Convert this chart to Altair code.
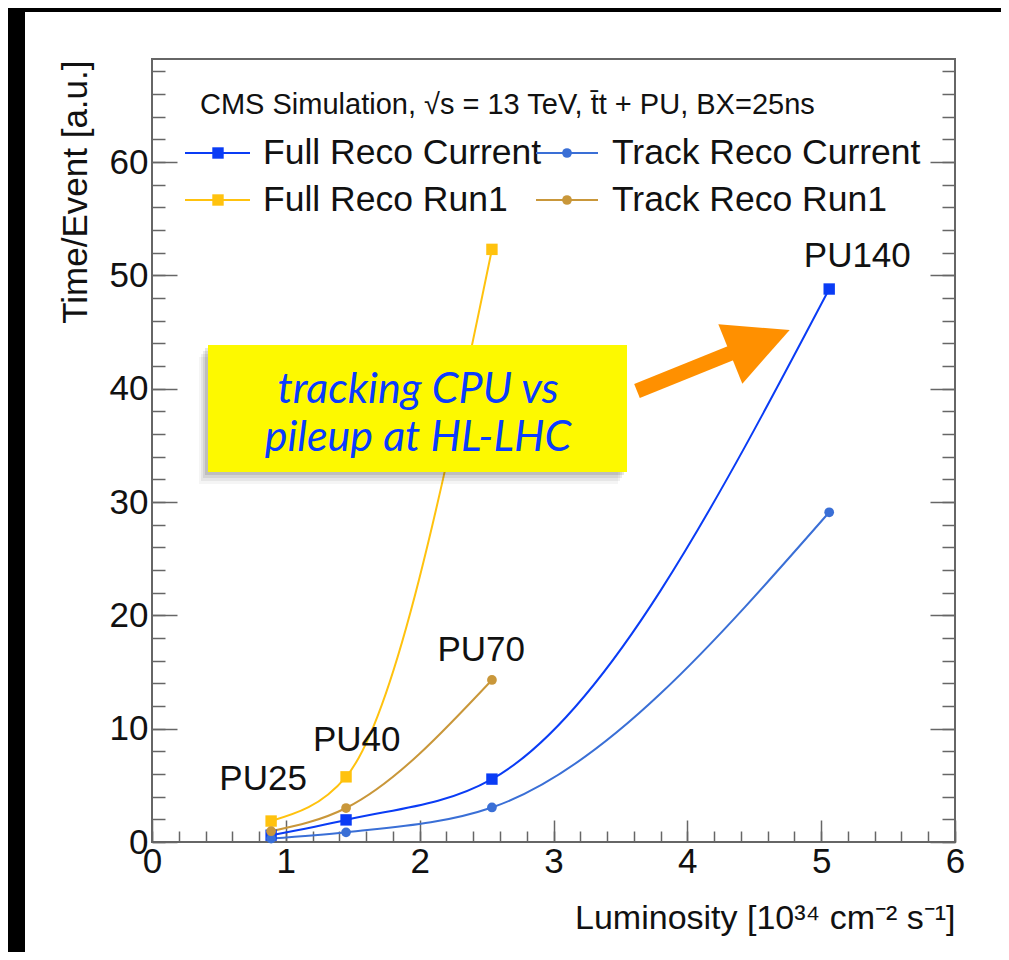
import altair as alt
import pandas as pd

# ---------------- data ----------------
lum_current = [0.89, 1.45, 2.54, 5.06]
full_reco_current = [0.6, 1.95, 5.55, 48.8]
track_reco_current = [0.3, 0.85, 3.05, 29.1]
lum_run1 = [0.89, 1.45, 2.54]
full_reco_run1 = [1.85, 5.75, 52.3]
track_reco_run1 = [0.95, 3.0, 14.3]

series_names = ["Full Reco Current", "Track Reco Current", "Full Reco Run1", "Track Reco Run1"]
series_markers = ["square", "circle", "square", "circle"]
series_colors = ["#0a3cf5", "#3a6fd6", "#ffc20e", "#c9973a"]

pu_labels = ["PU25", "PU40", "PU70", "PU140"]
pu_lum = [0.83, 1.53, 2.46, 5.27]
pu_time = [5.6, 9.0, 16.9, 51.7]

header_text = "CMS Simulation, \u221As = 13 TeV, t\u0304t + PU, BX=25ns"
x_title = "Luminosity [10\u00b3\u2074 cm\u207b\u00b2 s\u207b\u00b9]"
y_title = "Time/Event [a.u.]"
box_lines = ["tracking CPU vs", "pileup at HL-LHC"]

# ---------------- tables ----------------
rows = []
for name, xs_, ys_ in [
    (series_names[0], lum_current, full_reco_current),
    (series_names[1], lum_current, track_reco_current),
    (series_names[2], lum_run1, full_reco_run1),
    (series_names[3], lum_run1, track_reco_run1),
]:
    for a, b in zip(xs_, ys_):
        rows.append({"lum": a, "time": b, "series": name,
                     "marker": series_markers[series_names.index(name)]})
df = pd.DataFrame(rows)
pu_df = pd.DataFrame({"lum": pu_lum, "time": pu_time, "label": pu_labels})
one = pd.DataFrame({"a": [0]})

W, H = 803, 783
FONT = "Liberation Sans"
xsc = alt.Scale(domain=[0, 6], nice=False, zero=False)
ysc = alt.Scale(domain=[0, 69.1], nice=False, zero=False)
csc = alt.Scale(domain=series_names, range=series_colors)

SQ, CI = 130, 95

TICKC = "#666666"
common = dict(labels=False, domain=False, grid=False, title=None,
              tickColor=TICKC, tickWidth=1.5)


def axis_layer(xaxis, yaxis):
    return alt.Chart(df).mark_point(opacity=0).encode(
        x=alt.X("lum:Q", scale=xsc, axis=xaxis),
        y=alt.Y("time:Q", scale=ysc, axis=yaxis),
    )


x_major = [0, 1, 2, 3, 4, 5, 6]
x_minor = [round(i * 0.2, 2) for i in range(31)]
y_major = [0, 10, 20, 30, 40, 50, 60]
y_minor = list(range(0, 70, 2))

label_layer = axis_layer(
    alt.Axis(orient="bottom", values=x_major, ticks=False, domain=False, grid=False,
             labelFont=FONT, labelFontSize=35, labelColor="#111", labelPadding=2,
             labelFlush=False, format="d",
             title=x_title, titleFont=FONT, titleFontSize=34, titleFontWeight="normal",
             titleColor="#111", titleX=W, titleY=76, titleAlign="right",
             titleBaseline="middle", titleAngle=0),
    alt.Axis(orient="left", values=y_major, ticks=False, domain=False, grid=False,
             labelFont=FONT, labelFontSize=35, labelColor="#111", labelPadding=4,
             labelFlush=False, format="d",
             title=y_title, titleFont=FONT, titleFontSize=35, titleFontWeight="normal",
             titleColor="#111", titleX=-77, titleY=1, titleAlign="right",
             titleBaseline="middle", titleAngle=-90),
)
tick_layer1 = axis_layer(
    alt.Axis(orient="top", offset=-H, values=x_major, tickSize=22, **common),
    alt.Axis(orient="right", offset=-W, values=y_major, tickSize=25, **common),
)
tick_layer2 = axis_layer(
    alt.Axis(orient="top", offset=-H, values=x_minor, tickSize=11, **common),
    alt.Axis(orient="right", offset=-W, values=y_minor, tickSize=13, **common),
)
tick_layer3 = axis_layer(
    None,
    alt.Axis(orient="left", offset=-W, values=y_major, tickSize=25, **common),
)
tick_layer4 = axis_layer(
    None,
    alt.Axis(orient="left", offset=-W, values=y_minor, tickSize=13, **common),
)

# black border strips of the slide
black_left = alt.Chart(one).mark_rect(color="black").encode(
    x=alt.value(-144), x2=alt.value(-127), y=alt.value(-51), y2=alt.value(893))
black_top = alt.Chart(one).mark_rect(color="black").encode(
    x=alt.value(-144), x2=alt.value(849), y=alt.value(-51), y2=alt.value(-47))

curves = alt.Chart(df).mark_line(interpolate="monotone", strokeWidth=2).encode(
    x=alt.X("lum:Q", scale=xsc, axis=None),
    y=alt.Y("time:Q", scale=ysc, axis=None),
    color=alt.Color("series:N", scale=csc, legend=None),
    detail="series:N",
)
squares = alt.Chart(df).transform_filter(alt.datum.marker == "square").mark_point(
    shape="square", filled=True, size=SQ, opacity=1).encode(
    x=alt.X("lum:Q", scale=xsc, axis=None),
    y=alt.Y("time:Q", scale=ysc, axis=None),
    color=alt.Color("series:N", scale=csc, legend=None),
)
circles = alt.Chart(df).transform_filter(alt.datum.marker == "circle").mark_point(
    shape="circle", filled=True, size=CI, opacity=1).encode(
    x=alt.X("lum:Q", scale=xsc, axis=None),
    y=alt.Y("time:Q", scale=ysc, axis=None),
    color=alt.Color("series:N", scale=csc, legend=None),
)
pu_text = alt.Chart(pu_df).mark_text(font=FONT, fontSize=35, color="#111",
                                     align="center", baseline="middle").encode(
    x=alt.X("lum:Q", scale=xsc, axis=None),
    y=alt.Y("time:Q", scale=ysc, axis=None),
    text="label:N",
)

# legend (drawn by hand, ROOT style)
legend_layers = [
    alt.Chart(one).mark_text(text=header_text, font=FONT, fontSize=29, color="#111",
                             align="left", baseline="middle").encode(
        x=alt.value(48), y=alt.value(46))
]
col_line = [(33, 98), (384, 446)]
col_mark = [66, 415]
col_text = [111, 460]
row_y = [94, 141]
for i, name in enumerate(series_names):
    c, r = i % 2, i // 2
    col = series_colors[i]
    legend_layers.append(alt.Chart(one).mark_rule(color=col, strokeWidth=2).encode(
        x=alt.value(col_line[c][0]), x2=alt.value(col_line[c][1]), y=alt.value(row_y[r])))
    legend_layers.append(alt.Chart(one).mark_point(
        shape=series_markers[i], filled=True, opacity=1, color=col,
        size=SQ if series_markers[i] == "square" else CI).encode(
        x=alt.value(col_mark[c]), y=alt.value(row_y[r])))
    legend_layers.append(alt.Chart(one).mark_text(
        text=name, font=FONT, fontSize=35.5, color="#111", align="left",
        baseline="middle").encode(x=alt.value(col_text[c]), y=alt.value(row_y[r])))

# yellow call-out box with soft shadow
box = []
for dx, dy, op in [(-9, 12, 0.04), (-7, 9, 0.06), (-5, 6, 0.08), (-3, 3, 0.1)]:
    box.append(alt.Chart(one).mark_rect(color="black", opacity=op).encode(
        x=alt.value(56 + dx), x2=alt.value(475 + dx), y=alt.value(286 + dy),
        y2=alt.value(413 + dy)))
box.append(alt.Chart(one).mark_rect(color="#fdf900").encode(
    x=alt.value(56), x2=alt.value(475), y=alt.value(286), y2=alt.value(413)))
for j, line in enumerate(box_lines):
    box.append(alt.Chart(one).mark_text(
        text=line, font="Lato", fontStyle="italic", fontSize=43, color="#0a3cff",
        align="center", baseline="middle").encode(
        x=alt.value(266), y=alt.value(331 + 48 * j)))

arrow = [
    alt.Chart(one).mark_rule(color="#ff9000", strokeWidth=15, strokeCap="butt").encode(
        x=alt.value(485), x2=alt.value(584), y=alt.value(332), y2=alt.value(292)),
    alt.Chart(one).mark_point(shape="M0,-1L1,1L-1,1Z", filled=True, opacity=1,
                              color="#ff9000", size=4096, angle=68).encode(
        x=alt.value(608), y=alt.value(283)),
]

chart = alt.layer(
    black_left, black_top,
    label_layer, tick_layer1, tick_layer2, tick_layer3, tick_layer4,
    curves, squares, circles, pu_text,
    *legend_layers, *box, *arrow,
).resolve_axis(x="independent", y="independent").properties(
    width=W, height=H,
    padding={"left": 144, "top": 51, "right": 46, "bottom": 110},
    autosize=alt.AutoSizeParams(type="none"),
    background="white",
).configure_view(stroke="#666666", strokeWidth=2)

chart.save("out.html", embed_options={"renderer": "svg", "actions": False})
